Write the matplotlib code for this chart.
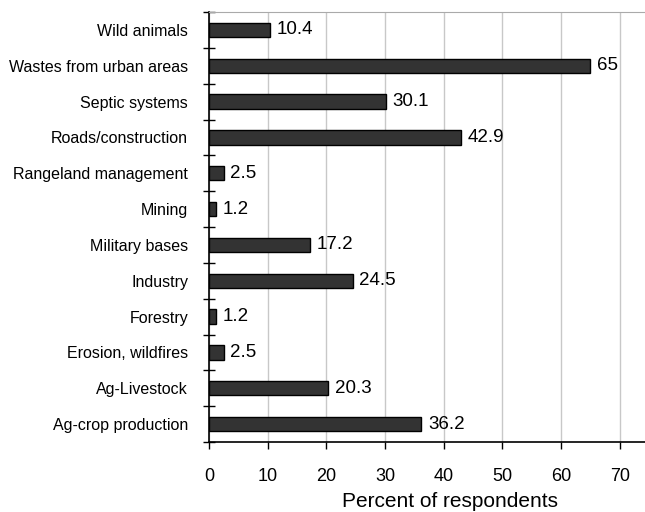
import numpy as np
import matplotlib.pyplot as plt

plt.rcParams['font.family'] = ['Liberation Sans', 'DejaVu Sans']

categories = ['Wild animals', 'Wastes from urban areas', 'Septic systems',
              'Roads/construction', 'Rangeland management', 'Mining',
              'Military bases', 'Industry', 'Forestry', 'Erosion, wildfires',
              'Ag-Livestock', 'Ag-crop production']
values = [10.4, 65, 30.1, 42.9, 2.5, 1.2, 17.2, 24.5, 1.2, 2.5, 20.3, 36.2]
value_labels = ['10.4', '65', '30.1', '42.9', '2.5', '1.2', '17.2', '24.5',
                '1.2', '2.5', '20.3', '36.2']

fig = plt.figure(figsize=(6.45, 5.12), dpi=100)
ax = fig.add_axes([209/645, 1-442/512, 1-209/645, 430/512])

y = np.arange(len(categories))
ax.barh(y, values, height=0.4, color='#333333', edgecolor='black', linewidth=1, zorder=3)
for yi, v, t in zip(y, values, value_labels):
    ax.text(v + 1.1, yi, t, va='center', ha='left', fontsize=13.5)

ax.set_ylim(len(categories) - 0.5, -0.5)
ax.set_xlim(0, 74.3)
ax.set_yticks(y)
ax.set_yticklabels(categories, fontsize=11.5)
ax.tick_params(axis='y', length=0, pad=15)
ax.set_yticks(np.arange(-0.5, len(categories)), minor=True)
ax.tick_params(axis='y', which='minor', direction='inout', length=8, width=1)

ax.set_xticks(np.arange(0, 71, 10))
ax.tick_params(axis='x', labelsize=13, direction='out', length=5, width=1, pad=14)
ax.xaxis.grid(True, color='#c8c8c8', linewidth=1, zorder=0)
ax.set_xlabel('Percent of respondents', fontsize=15)
ax.xaxis.set_label_coords(0.553, -0.117)

ax.spines['right'].set_visible(False)
ax.spines['top'].set_color('#aaaaaa')
ax.spines['top'].set_linewidth(0.8)
ax.spines['left'].set_linewidth(1.2)
ax.spines['bottom'].set_linewidth(1.2)

fig.savefig('out.png', dpi=100)
